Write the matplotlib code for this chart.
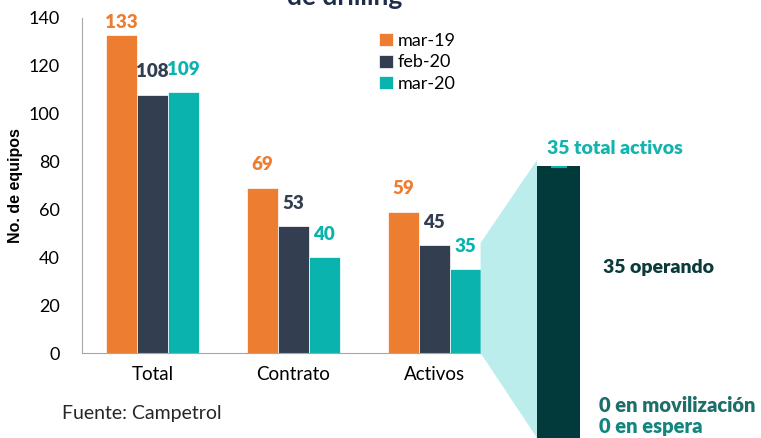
import numpy as np
import matplotlib
matplotlib.use("Agg")
import matplotlib.pyplot as plt
from matplotlib.patches import Polygon

plt.rcParams['font.family'] = ['Lato', 'DejaVu Sans']

categories = ['Total', 'Contrato', 'Activos']
series_names = ['mar-19', 'feb-20', 'mar-20']
mar19 = [133, 69, 59]
feb20 = [108, 53, 45]
mar20 = [109, 40, 35]
colors = ['#ED7D31', '#333F50', '#0BB3AF']

# desglose de los equipos activos (mar-20)
total_activos = 35
operando = 35
movilizacion = 0
espera = 0

W, H = 761, 438
fig = plt.figure(figsize=(W / 100, H / 100), dpi=100)

ax = fig.add_axes([82 / W, 85 / H, 400 / W, 335 / H])
x = np.arange(len(categories))
bw = 0.22
for i, (vals, name, col) in enumerate(zip([mar19, feb20, mar20], series_names, colors)):
    xs = x + (i - 1) * bw
    ax.bar(xs, vals, bw, color=col, label=name, edgecolor='white', linewidth=0.5)
    for xx, v in zip(xs, vals):
        ax.text(xx, min(v + 9.6, 138.3), str(v), ha='center', va='center',
                fontsize=13.5, fontweight='heavy', color=col)

ax.set_xlim(-0.5, 2.34)
ax.set_ylim(0, 140)
ax.set_yticks(range(0, 141, 20))
ax.set_xticks(x)
ax.set_xticklabels(categories)
ax.tick_params(length=0, labelsize=13, colors='black')
ax.tick_params(axis='y', pad=16)
ax.tick_params(axis='x', labelsize=13.5, pad=9)
for s in ['top', 'right']:
    ax.spines[s].set_visible(False)
for s in ['left', 'bottom']:
    ax.spines[s].set_color('#A6A6A6')
ax.set_ylabel('No. de equipos', fontsize=11.5, fontweight='bold',
              family=['Liberation Sans', 'DejaVu Sans'])
ax.yaxis.set_label_coords(-0.148, 0.50)

leg = ax.legend(loc='upper left', bbox_to_anchor=(379 / W, 1 - 33 / H),
                bbox_transform=fig.transFigure, frameon=False, fontsize=13,
                handlelength=0.75, handleheight=0.75, handletextpad=0.3,
                labelspacing=0.3, borderpad=0, borderaxespad=0)

# barra de detalle de activos
ax2 = fig.add_axes([537 / W, 0, 43 / W, 272 / H])
ax2.bar([0], [operando], 1, color='#02393A')
ax2.bar([0], [movilizacion], 1, bottom=operando, color='#1D6E69')
ax2.bar([0], [espera], 1, bottom=operando + movilizacion, color='#12857F')
ax2.plot([0], [total_activos], marker='_', markersize=12, mew=3, color='#0BB3AF')
ax2.set_xlim(-0.5, 0.5)
ax2.set_ylim(0, total_activos)
ax2.axis('off')

# conector
fig.canvas.draw()
p_left_bot = ax.transData.transform((2 + 1.5 * bw, 0))
p_left_top = ax.transData.transform((2 + 1.5 * bw, 46))
p_right_top = ax2.transData.transform((-0.5, total_activos * 1.022))
p_right_bot = ax2.transData.transform((-0.5, 0))
poly = Polygon([p_left_bot, p_left_top, p_right_top, p_right_bot], closed=True,
               transform=None, facecolor='#BCEDED', edgecolor='none', zorder=0)
fig.patches.append(poly)

fig.text(547 / W, 1 - 148 / H, f'{total_activos} total activos', fontsize=14,
         fontweight='heavy', color='#13B3AE', va='center')
fig.text(603 / W, 1 - 268 / H, f'{operando} operando', fontsize=14,
         fontweight='heavy', color='#0B3B3B', va='center')
fig.text(599 / W, 1 - 406 / H, f'{movilizacion} en movilización', fontsize=14.5,
         fontweight='heavy', color='#1D6E69', va='center')
fig.text(599 / W, 1 - 426 / H, f'{espera} en espera', fontsize=14.5,
         fontweight='heavy', color='#12857F', va='center')

fig.text(62 / W, 1 - 413 / H, 'Fuente: Campetrol', fontsize=14, color='#262626', va='center')
fig.text(345 / W, 1 - 5 / H, 'Equipos de perforación\nde drilling', fontsize=19,
         fontweight='bold', color='#1F2D4D', ha='center', va='baseline')

fig.savefig('out.png', dpi=100)
